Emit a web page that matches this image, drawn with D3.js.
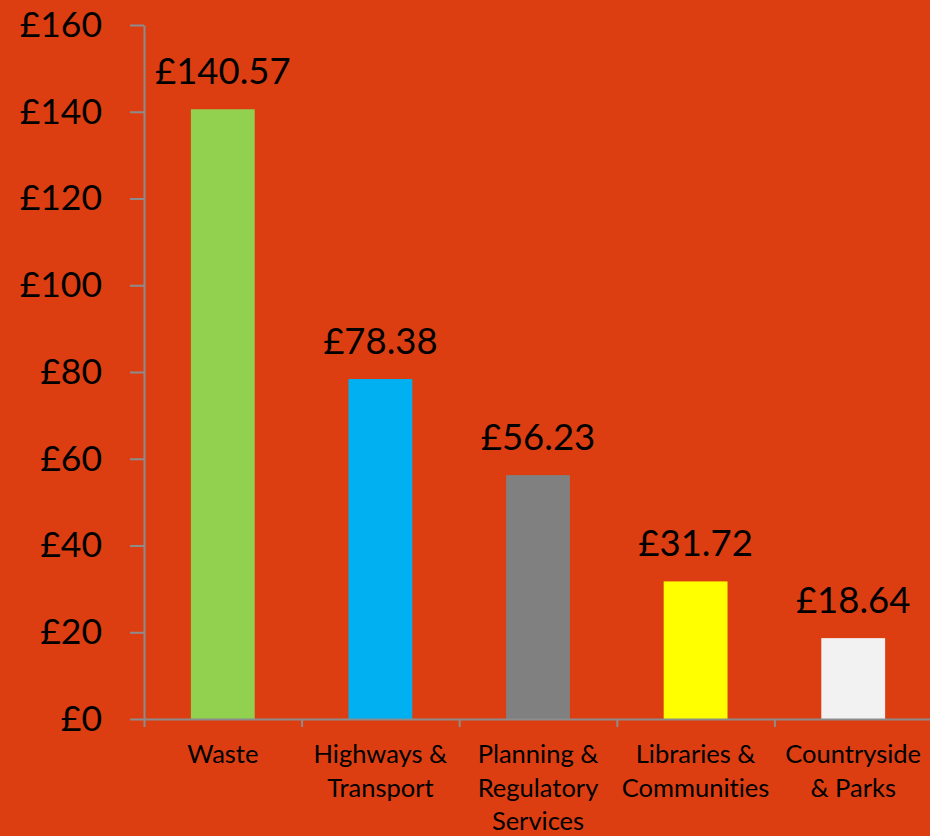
<!DOCTYPE html>
<html>
<head>
<meta charset="utf-8">
<script src="https://cdn.jsdelivr.net/npm/d3@7"></script>
<style>
  html, body { margin: 0; padding: 0; background: #dc3e12; }
  svg { display: block; }
  text { font-variant-ligatures: none; font-feature-settings: "liga" 0; }
</style>
</head>
<body>
<div id="wrapper"></div>
<script>
// Spend per head by service
const categories = [
  ["Waste"],
  ["Highways &", "Transport"],
  ["Planning &", "Regulatory", "Services"],
  ["Libraries &", "Communities"],
  ["Countryside", "& Parks"]
]
const values = [140.57, 78.38, 56.23, 31.72, 18.64]
const barColors = ["#92d050", "#00b0f0", "#808080", "#ffff00", "#f2f2f2"]
const yTicks = [0, 20, 40, 60, 80, 100, 120, 140, 160]

let dimensions = {
  width: 930,
  height: 836,
  margin: { top: 25, right: -2, bottom: 117, left: 144 }
}
dimensions.boundedWidth = dimensions.width - dimensions.margin.left - dimensions.margin.right
dimensions.boundedHeight = dimensions.height - dimensions.margin.top - dimensions.margin.bottom

const font = "Lato, 'Open Sans', sans-serif"
const axisColor = "#8c8c8c"

function drawChart() {
  const wrapper = d3.select("#wrapper").append("svg")
    .attr("width", dimensions.width)
    .attr("height", dimensions.height)
  wrapper.append("rect").attr("width", dimensions.width).attr("height", dimensions.height).attr("fill", "#dc3e12")

  const bounds = wrapper.append("g")
    .attr("transform", `translate(${dimensions.margin.left},${dimensions.margin.top})`)

  const idx = d3.range(values.length)

  // Scales
  const xScale = d3.scaleBand().domain(idx).range([0, dimensions.boundedWidth]).paddingInner(0.595).paddingOuter(0.2975)
  const edgeScale = d3.scaleLinear().domain([0, values.length]).range([0, dimensions.boundedWidth])
  const yScale = d3.scaleLinear().domain([0, 160]).range([dimensions.boundedHeight, 0])

  // Bars
  bounds.append("g").selectAll("rect")
    .data(idx)
    .join("rect")
    .attr("x", i => xScale(i))
    .attr("y", i => yScale(values[i]))
    .attr("width", xScale.bandwidth())
    .attr("height", i => dimensions.boundedHeight - yScale(values[i]))
    .attr("fill", i => barColors[i])

  // Value labels
  bounds.append("g").selectAll("text")
    .data(idx)
    .join("text")
    .attr("x", i => xScale(i) + xScale.bandwidth() / 2)
    .attr("y", i => yScale(values[i]) - 25)
    .attr("text-anchor", "middle")
    .style("font-family", font)
    .style("font-size", "36.5px")
    .attr("fill", "#000")
    .text(i => "£" + values[i].toFixed(2))

  // Y axis
  const yAxisGenerator = d3.axisLeft(yScale)
    .tickValues(yTicks)
    .tickSize(14)
    .tickSizeOuter(0)
    .tickPadding(28)
    .tickFormat(d => "£" + d)
  const yAxis = bounds.append("g").call(yAxisGenerator)
  yAxis.select(".domain").attr("stroke", axisColor).attr("stroke-width", 2)
  yAxis.selectAll(".tick line").attr("stroke", axisColor).attr("stroke-width", 2)
  yAxis.selectAll(".tick text")
    .attr("fill", "#000")
    .style("font-family", font)
    .style("font-size", "35.5px")

  // X axis (ticks at category boundaries)
  const xAxisGenerator = d3.axisBottom(edgeScale)
    .tickValues(d3.range(values.length + 1))
    .tickSize(8)
    .tickSizeOuter(0)
    .tickFormat("")
  const xAxis = bounds.append("g")
    .attr("transform", `translate(0,${dimensions.boundedHeight})`)
    .call(xAxisGenerator)
  xAxis.select(".domain").attr("stroke", axisColor).attr("stroke-width", 2)
  xAxis.selectAll(".tick line").attr("stroke", axisColor).attr("stroke-width", 2)

  // Category labels
  const catLabels = bounds.append("g").selectAll("text")
    .data(idx)
    .join("text")
    .attr("x", i => xScale(i) + xScale.bandwidth() / 2)
    .attr("y", dimensions.boundedHeight + 44)
    .attr("text-anchor", "middle")
    .style("font-family", font)
    .style("font-size", "25.5px")
    .attr("fill", "#000")
  catLabels.selectAll("tspan")
    .data(i => categories[i])
    .join("tspan")
    .attr("x", function () { return d3.select(this.parentNode).attr("x") })
    .attr("dy", (d, j) => j === 0 ? 0 : 33.5)
    .text(d => d)
}

drawChart()
</script>
</body>
</html>
